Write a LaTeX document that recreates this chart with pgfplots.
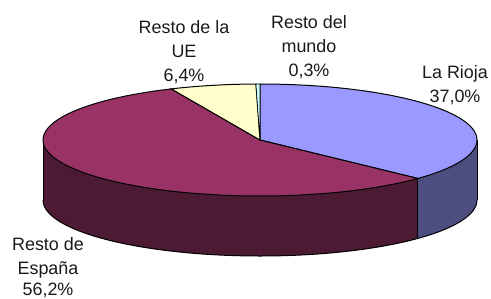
\documentclass[border=0pt]{standalone}
\usepackage{pgfplots}
\pgfplotsset{compat=1.18}
\usepackage{pgfplotstable}
\usepgfplotslibrary{fillbetween}
\usepackage{fontspec}
\setmainfont{Liberation Sans}
\definecolor{rioja}{HTML}{9999FF}
\definecolor{riojaside}{HTML}{4D4D80}
\definecolor{espana}{HTML}{993366}
\definecolor{espanaside}{HTML}{4D1A33}
\definecolor{ue}{HTML}{FFFFCC}
\definecolor{mundo}{HTML}{CCFFFF}
\definecolor{txt}{HTML}{1A1A1A}

\pgfplotstableread{
name pct
LaRioja 37.0
Espana 56.2
UE 6.4
Mundo 0.3
}\piedata

\begin{document}
\begin{tikzpicture}[lbl/.style={font=\fontsize{18}{22}\selectfont, text=txt, anchor=base, inner sep=0pt}]
\pgfplotstablegetelem{0}{pct}\of\piedata \let\pa\pgfplotsretval
\pgfplotstablegetelem{1}{pct}\of\piedata \let\pb\pgfplotsretval
\pgfplotstablegetelem{2}{pct}\of\piedata \let\pc\pgfplotsretval
\pgfplotstablegetelem{3}{pct}\of\piedata \let\pd\pgfplotsretval
\pgfmathsetmacro\tot{\pa+\pb+\pc+\pd}
\pgfmathsetmacro\aA{90}
\pgfmathsetmacro\aB{90-(\pa/\tot)*360}
\pgfmathsetmacro\aC{\aB-(\pb/\tot)*360}
\pgfmathsetmacro\aD{\aC-(\pc/\tot)*360}
\pgfmathsetmacro\aE{\aD-(\pd/\tot)*360}
\def\cx{260}\def\cy{158}\def\rx{217}\def\ry{56}\def\dep{60}
\pgfmathsetmacro\xB{\cx+\rx*cos(\aB)}
\pgfmathsetmacro\yB{\cy+\ry*sin(\aB)}
\pgfmathsetmacro\yBb{\yB-\dep}
\pgfmathsetmacro\xL{\cx-\rx}
\pgfmathsetmacro\xR{\cx+\rx}
\pgfmathsetmacro\yb{\cy-\dep}
\begin{axis}[x=1bp,y=1bp,xmin=0,xmax=491,ymin=0,ymax=298,hide axis,clip=false]
% side faces
\addplot[draw=none,name path=t1,domain=-180:\aB,samples=120] ({\cx+\rx*cos(x)},{\cy+\ry*sin(x)});
\addplot[draw=none,name path=b1,domain=-180:\aB,samples=120] ({\cx+\rx*cos(x)},{\cy-\dep+\ry*sin(x)});
\addplot[espanaside] fill between[of=t1 and b1];
\addplot[draw=none,name path=t2,domain=\aB:0,samples=60] ({\cx+\rx*cos(x)},{\cy+\ry*sin(x)});
\addplot[draw=none,name path=b2,domain=\aB:0,samples=60] ({\cx+\rx*cos(x)},{\cy-\dep+\ry*sin(x)});
\addplot[riojaside] fill between[of=t2 and b2];
% side outlines
\addplot[black,line width=1bp,domain=-180:0,samples=160] ({\cx+\rx*cos(x)},{\cy-\dep+\ry*sin(x)});
\addplot[black,line width=1bp] coordinates {(\xL,\cy) (\xL,\yb)};
\addplot[black,line width=1bp] coordinates {(\xR,\cy) (\xR,\yb)};
\addplot[black,line width=1bp] coordinates {(\xB,\yB) (\xB,\yBb)};
% top wedges
\addplot[fill=rioja,draw=black,line width=1bp,domain=\aB:\aA,samples=100] ({\cx+\rx*cos(x)},{\cy+\ry*sin(x)}) -- (axis cs:\cx,\cy) -- cycle;
\addplot[fill=espana,draw=black,line width=1bp,domain=\aC:\aB,samples=160] ({\cx+\rx*cos(x)},{\cy+\ry*sin(x)}) -- (axis cs:\cx,\cy) -- cycle;
\addplot[fill=ue,draw=black,line width=1bp,domain=\aD:\aC,samples=30] ({\cx+\rx*cos(x)},{\cy+\ry*sin(x)}) -- (axis cs:\cx,\cy) -- cycle;
\addplot[fill=mundo,draw=black,line width=0.6bp,domain=\aE:\aD,samples=5] ({\cx+\rx*cos(x)},{\cy+\ry*sin(x)}) -- (axis cs:\cx,\cy) -- cycle;
% labels
\node[lbl] at (axis cs:184,265) {Resto de la};
\node[lbl] at (axis cs:184,241) {UE};
\node[lbl] at (axis cs:184,217) {6,4\%};
\node[lbl] at (axis cs:309,270) {Resto del};
\node[lbl] at (axis cs:309,246) {mundo};
\node[lbl] at (axis cs:309,222) {0,3\%};
\node[lbl] at (axis cs:455,220) {La Rioja};
\node[lbl] at (axis cs:455,196) {37,0\%};
\node[lbl] at (axis cs:48,48) {Resto de};
\node[lbl] at (axis cs:48,24) {España};
\node[lbl] at (axis cs:48,2.5) {56,2\%};
\end{axis}
\pgfresetboundingbox
\path (current axis.south west) rectangle (current axis.north east);
\end{tikzpicture}
\end{document}
